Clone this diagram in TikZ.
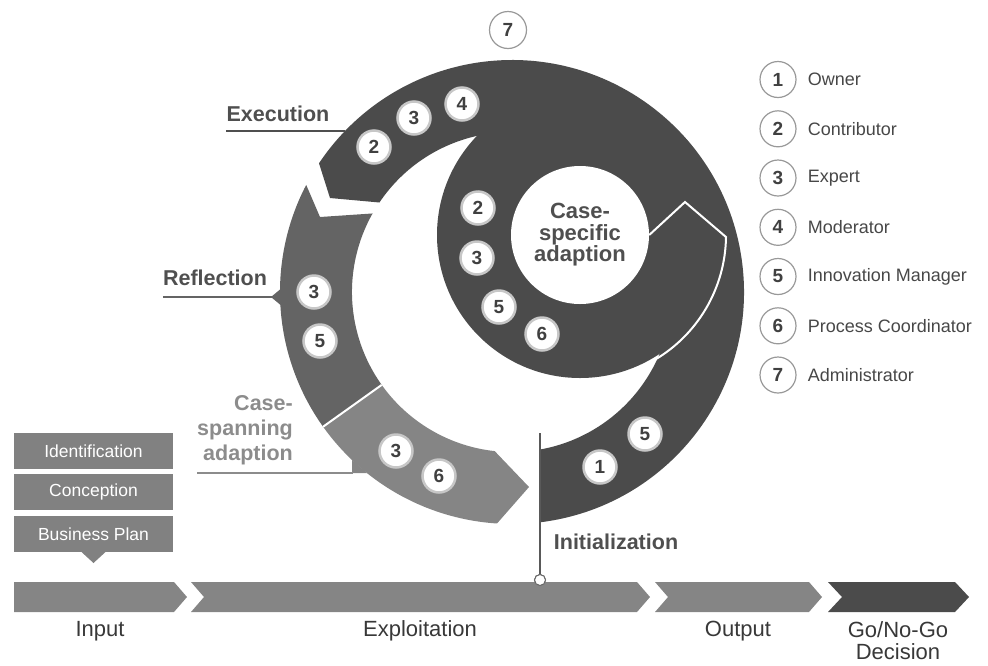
\documentclass[tikz,border=0pt]{standalone}
\usepackage{fontspec}
\setmainfont{Liberation Sans}
\usetikzlibrary{positioning}
\definecolor{banddark}{HTML}{4B4B4B}
\definecolor{bandmid}{HTML}{646464}
\definecolor{bandlight}{HTML}{858585}
\definecolor{boxgray}{HTML}{818181}
\definecolor{labelgray}{HTML}{4F4F4F}
\definecolor{spangray}{HTML}{8C8C8C}
\tikzset{
  badge/.style={circle,fill=white,draw=black!22,line width=2.5pt,minimum size=33pt,inner sep=0pt,
    text=black!75,font=\bfseries\fontsize{19}{19}\selectfont},
  rolebadge/.style={circle,fill=white,draw=black!40,line width=1.2pt,minimum size=36pt,inner sep=0pt,
    text=black!75,font=\bfseries\fontsize{19}{19}\selectfont},
  roletext/.style={inner sep=0pt,anchor=west,text=black!72,font=\fontsize{18}{18}\selectfont},
  phase/.style={inner sep=0pt,text=labelgray,font=\bfseries\fontsize{21.5}{21.5}\selectfont},
  stagebox/.style={fill=boxgray,text=white,minimum width=159pt,minimum height=36pt,inner sep=0pt,
    font=\fontsize{17.5}{17.5}\selectfont},
  steplabel/.style={text=black!78,align=center,inner sep=1pt,font=\fontsize{22}{22}\selectfont}
}
\begin{document}
\begin{tikzpicture}[x=1pt,y=-1pt]
\useasboundingbox (0,0) rectangle (988,665);
% outer spiral: initialization up round to execution
\fill[banddark] (540,449.5) -- (540,522.3) arc[start angle=83.07,end angle=-146.3,radius=232]
  -- (330,198) -- (379.4,202.5) arc[start angle=-146,end angle=79.92,radius=160] -- cycle;
\fill[banddark] (580,235) circle[radius=143];
% reflection and case-spanning adaption
\fill[bandmid] (306.2,184.9) arc[start angle=207.5,end angle=144.5,radius=232]
  -- (381.7,384.9) arc[start angle=144.5,end angle=209.4,radius=160] -- (320,217) -- cycle;
\fill[bandlight] (323.1,426.7) arc[start angle=144.5,end angle=93.7,radius=232]
  -- (529,487) -- (494.7,451.1) arc[start angle=96.2,end angle=144.5,radius=160] -- cycle;
\draw[white,line width=2pt] (323.1,426.7) -- (381.7,384.9);
\fill[bandmid] (271,297) -- (283,287) -- (283,307) -- cycle;
\fill[bandlight] (352,459.7) -- (352,473) -- (367,473) -- cycle;

\node[circle,fill=white,minimum size=138pt,inner sep=0pt,align=center,text=labelgray,
  font=\bfseries\fontsize{22}{21.5}\selectfont] (hub) at (580,235) {Case-\\specific\\adaption};
\draw[white,line width=2pt] (hub.east) -- (685,202) -- (726,237) arc[start angle=0.8,end angle=60,radius=145];

% roles on the spiral
\node[badge] (exe2) at (374,147) {2};
\node[badge] (exe3) at (414,118) {3};
\node[badge] (exe4) at (462,104) {4};
\node[badge] (adp2) at (478,208) {2};
\node[badge] (adp3) at (477,258) {3};
\node[badge] (adp5) at (499,307) {5};
\node[badge] (adp6) at (542,334) {6};
\node[badge] (ref3) at (314,292) {3};
\node[badge] (ref5) at (320,341) {5};
\node[badge] (spn3) at (396,451) {3};
\node[badge] (spn6) at (439,476) {6};
\node[badge] (ini1) at (600,467) {1};
\node[badge] (ini5) at (645,434) {5};
\node[rolebadge,minimum size=37pt] (adm7) at (508,30) {7};

% phase labels
\node[phase] (lblExec) at (278,114) {Execution};
\coordinate (execFoot) at (345,131);
\draw[labelgray,line width=1.2pt] (lblExec.west |- execFoot) -- (execFoot);
\node[phase] (lblRefl) at (215,278) {Reflection};
\coordinate (reflFoot) at (272,297);
\draw[bandmid,line width=1.2pt] (lblRefl.west |- reflFoot) -- (reflFoot);
\node[phase,text=spangray,align=right,anchor=east,font=\bfseries\fontsize{21.5}{25}\selectfont] (lblSpan) at (293,430) {Case-\\spanning\\adaption};
\coordinate (spanFoot) at (353,473);
\draw[spangray,line width=1.2pt] (lblSpan.west |- spanFoot) -- (spanFoot);
\node[phase] (lblInit) at (616,542) {Initialization};
\coordinate (initTop) at (540,433);
\node[circle,draw=black!60,fill=white,line width=1pt,minimum size=11pt,inner sep=0pt] (initDot) at (540,580) {};
\draw[black!65,line width=1.2pt] (initTop) -- (initDot);

% time line
\fill[bandlight] (14,582) -- (174,582) -- (187,597) -- (174,612) -- (14,612) -- cycle;
\fill[bandlight] (191,582) -- (637,582) -- (650,597) -- (637,612) -- (191,612) -- (204,597) -- cycle;
\fill[bandlight] (655,582) -- (809,582) -- (822,597) -- (809,612) -- (655,612) -- (668,597) -- cycle;
\fill[banddark] (828,582) -- (955,582) -- (969,597) -- (955,612) -- (828,612) -- (842,597) -- cycle;
\node[circle,draw=black!60,fill=white,line width=1pt,minimum size=11pt,inner sep=0pt] at (initDot) {};
\node[steplabel] (inputLbl) at (100,631) {Input};
\node[steplabel] (exploitLbl) at (420,631) {Exploitation};
\node[steplabel] (outputLbl) at (738,631) {Output};
\node[steplabel] (decisionLbl) at (898,641) {Go/No-Go\\Decision};

% input stages
\node[stagebox] (ident) at (93.5,451) {Identification};
\node[stagebox,below=5pt of ident] (concept) {Conception};
\node[stagebox,below=5pt of concept] (bplan) {Business Plan};
\fill[boxgray] ([xshift=-12pt]bplan.south) -- ([yshift=-11pt]bplan.south) -- ([xshift=12pt]bplan.south) -- cycle;

% legend
\node[rolebadge] (role1) at (778,79.5) {1};
\node[roletext,right=11pt of role1] (roleOwner) {Owner};
\node[rolebadge] (role2) at (778,128.8) {2};
\node[roletext,right=11pt of role2] (roleContrib) {Contributor};
\node[rolebadge] (role3) at (778,178) {3};
\node[roletext,right=11pt of role3] (roleExpert) {Expert};
\node[rolebadge] (role4) at (778,227.3) {4};
\node[roletext,right=11pt of role4] (roleModer) {Moderator};
\node[rolebadge] (role5) at (778,276.5) {5};
\node[roletext,right=11pt of role5] (roleInnov) {Innovation Manager};
\node[rolebadge] (role6) at (778,325.8) {6};
\node[roletext,right=11pt of role6] (roleProc) {Process Coordinator};
\node[rolebadge] (role7) at (778,375) {7};
\node[roletext,right=11pt of role7] (roleAdmin) {Administrator};
\end{tikzpicture}
\end{document}
